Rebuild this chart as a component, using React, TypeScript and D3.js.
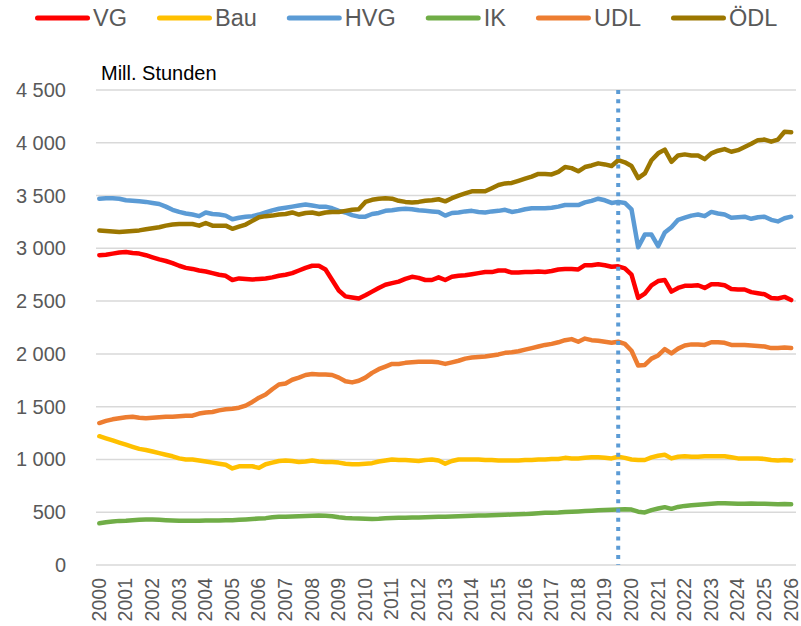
import React, { useRef, useEffect } from 'react';
import * as d3 from 'd3';

// Kategorien: Quartale 2000Q1 bis 2026Q1
const years = ['2000', '2001', '2002', '2003', '2004', '2005', '2006', '2007', '2008', '2009',
  '2010', '2011', '2012', '2013', '2014', '2015', '2016', '2017', '2018', '2019',
  '2020', '2021', '2022', '2023', '2024', '2025', '2026'];
const quarterNames = ['Q1', 'Q2', 'Q3', 'Q4'];
const quarters = years.flatMap(y => quarterNames.map(q => y + q)).slice(0, 105);

const markerQuarter = '2019Q3';
const yTicks = [0, 500, 1000, 1500, 2000, 2500, 3000, 3500, 4000, 4500];

// Mill. Stunden, je Quartal
const vg = [
  2935, 2940, 2950, 2960,
  2965, 2955, 2950, 2935,
  2915, 2895, 2880, 2860,
  2835, 2815, 2805, 2790,
  2780, 2765, 2750, 2740,
  2700, 2715, 2710, 2705,
  2710, 2715, 2725, 2740,
  2750, 2765, 2790, 2815,
  2835, 2835, 2800, 2700,
  2600, 2545, 2535, 2525,
  2555, 2590, 2625, 2655,
  2670, 2685, 2710, 2730,
  2720, 2700, 2700, 2725,
  2700, 2730, 2740, 2745,
  2755, 2765, 2775, 2775,
  2790, 2790, 2770, 2770,
  2775, 2775, 2780, 2775,
  2785, 2800, 2805, 2805,
  2800, 2840, 2840, 2850,
  2840, 2825, 2830, 2810,
  2750, 2530, 2570, 2650,
  2690, 2700, 2590, 2625,
  2645, 2645, 2650, 2625,
  2660, 2660, 2650, 2615,
  2610, 2610, 2585, 2575,
  2565, 2530, 2525, 2540,
  2510,
];

const bau = [
  1220, 1200, 1180, 1160,
  1140, 1120, 1100, 1090,
  1075, 1060, 1045, 1030,
  1010, 1000, 1000, 990,
  980, 970, 960, 950,
  915, 935, 935, 935,
  920, 955, 970, 985,
  990, 985, 975, 980,
  990, 980, 975, 975,
  970, 960, 955, 955,
  960, 965, 980, 990,
  1000, 995, 995, 990,
  985, 995, 1000, 990,
  960, 985, 1000, 1000,
  1000, 1000, 995, 995,
  990, 990, 990, 990,
  995, 995, 1000, 1000,
  1005, 1005, 1015, 1010,
  1010, 1015, 1020, 1020,
  1015, 1010, 1025, 1015,
  1000, 995, 995, 1020,
  1035, 1045, 1010, 1025,
  1030, 1025, 1025, 1030,
  1030, 1030, 1030, 1020,
  1010, 1010, 1010, 1010,
  1005, 995, 990, 995,
  990,
];

const hvg = [
  3470, 3475, 3475, 3470,
  3455, 3450, 3445, 3440,
  3430, 3420, 3395, 3365,
  3345, 3330, 3320, 3305,
  3340, 3325, 3320, 3310,
  3275, 3290, 3300, 3305,
  3320, 3340, 3360, 3375,
  3385, 3395, 3405, 3415,
  3405, 3395, 3395, 3380,
  3355, 3340, 3315, 3300,
  3300, 3325, 3335, 3355,
  3360, 3370, 3375, 3370,
  3360, 3355, 3350, 3345,
  3310, 3335, 3340, 3350,
  3355, 3345, 3340, 3350,
  3355, 3365, 3345, 3355,
  3370, 3380, 3380, 3380,
  3385, 3395, 3410, 3410,
  3410, 3435, 3450, 3470,
  3455, 3430, 3440, 3430,
  3370, 3010, 3130, 3130,
  3020, 3150, 3200, 3270,
  3290, 3310, 3320, 3305,
  3345, 3330, 3320, 3290,
  3295, 3300, 3280, 3295,
  3300, 3270, 3255, 3285,
  3300,
];

const ik = [
  395, 405, 412, 418,
  420, 425, 428, 430,
  430, 428, 425, 422,
  420, 420, 420, 420,
  422, 422, 422, 424,
  425, 428, 432, 436,
  440, 444, 452, 456,
  458, 460, 462, 464,
  466, 468, 466, 462,
  452, 446, 442, 440,
  438, 436, 438, 442,
  446, 448, 448, 450,
  450, 452, 454, 456,
  458, 460, 462, 464,
  466, 468, 470, 472,
  474, 476, 478, 480,
  482, 486, 490, 494,
  496, 498, 502, 505,
  508, 512, 515, 518,
  522, 524, 526, 528,
  525, 505, 498, 520,
  535, 548, 532, 550,
  560, 565, 570, 575,
  580, 584, 585, 582,
  580, 580, 582, 580,
  580, 578, 576, 578,
  576,
];

const udl = [
  1345, 1365, 1380, 1390,
  1400, 1405, 1395, 1390,
  1395, 1400, 1405, 1405,
  1410, 1415, 1415, 1435,
  1445, 1450, 1465, 1475,
  1480, 1490, 1510, 1545,
  1585, 1615, 1665, 1710,
  1720, 1755, 1775, 1800,
  1810, 1805, 1805, 1800,
  1775, 1740, 1730, 1745,
  1775, 1820, 1855, 1880,
  1905, 1905, 1915, 1920,
  1925, 1925, 1925, 1920,
  1905, 1920, 1935, 1955,
  1965, 1970, 1975, 1985,
  1995, 2010, 2015, 2025,
  2040, 2055, 2070, 2085,
  2095, 2110, 2130, 2140,
  2115, 2145, 2130, 2125,
  2115, 2105, 2115, 2095,
  2030, 1890, 1895, 1955,
  1985, 2045, 2005, 2050,
  2080, 2090, 2090, 2085,
  2110, 2110, 2105, 2085,
  2085, 2085, 2080, 2075,
  2070, 2055, 2055, 2060,
  2055,
];

const oedl = [
  3170, 3165, 3160, 3155,
  3160, 3165, 3170, 3180,
  3190, 3200, 3215, 3225,
  3230, 3230, 3230, 3215,
  3240, 3215, 3215, 3215,
  3185, 3205, 3225, 3260,
  3295, 3305, 3310, 3320,
  3325, 3340, 3320, 3335,
  3340, 3325, 3340, 3345,
  3345, 3355, 3365, 3370,
  3440, 3460, 3470, 3475,
  3470, 3450, 3440, 3435,
  3440, 3450, 3455, 3465,
  3445, 3475, 3500, 3520,
  3540, 3540, 3540, 3570,
  3600, 3615, 3620, 3640,
  3660, 3680, 3705, 3705,
  3700, 3725, 3770, 3760,
  3730, 3770, 3785, 3805,
  3795, 3780, 3835, 3815,
  3780, 3665, 3710, 3835,
  3900, 3935, 3820, 3880,
  3890, 3880, 3880, 3845,
  3900, 3925, 3940, 3915,
  3930, 3960, 3990, 4025,
  4030, 4010, 4030, 4105,
  4100,
];

const series = [
  { name: 'VG', values: vg, color: '#FF0000' },
  { name: 'Bau', values: bau, color: '#FFC000' },
  { name: 'HVG', values: hvg, color: '#5B9BD5' },
  { name: 'IK', values: ik, color: '#70AD47' },
  { name: 'UDL', values: udl, color: '#ED7D31' },
  { name: 'ÖDL', values: oedl, color: '#9C7700' },
];

const width = 801;
const height = 626;
const left = 96;
const right = 794.5;
const top = 90;
const bottom = 565;
const font = '"Liberation Sans", Arial, sans-serif';

const App = () => {
  const svgRef = useRef<SVGSVGElement>(null);

  useEffect(() => {
    const svg = d3.select(svgRef.current);
    svg.selectAll('*').remove();

    const x = d3.scalePoint<string>().domain(quarters).range([left, right]).padding(0.5);
    const y = d3.scaleLinear().domain([0, 4500]).range([bottom, top]);
    const fmt = d3.formatLocale({ decimal: ',', thousands: '\u00a0', grouping: [3], currency: ['', ''] }).format(',');

    // Gitterlinien
    svg.append('g')
      .selectAll('line')
      .data(yTicks)
      .enter()
      .append('line')
      .attr('x1', left)
      .attr('x2', right + 1.5)
      .attr('y1', d => y(d))
      .attr('y2', d => y(d))
      .attr('stroke', '#D9D9D9')
      .attr('stroke-width', 1.5);

    svg.append('g')
      .selectAll('text')
      .data(yTicks)
      .enter()
      .append('text')
      .attr('x', 66)
      .attr('y', d => y(d))
      .attr('dy', '0.35em')
      .attr('text-anchor', 'end')
      .style('font-family', font)
      .style('font-size', '20px')
      .attr('fill', '#595959')
      .text(d => fmt(d));

    svg.append('g')
      .selectAll('text')
      .data(quarters.filter(q => q.endsWith('Q1')))
      .enter()
      .append('text')
      .attr('transform', d => `translate(${x(d)}, 578) rotate(-90)`)
      .attr('dy', '0.33em')
      .attr('text-anchor', 'end')
      .style('font-family', font)
      .style('font-size', '19.5px')
      .attr('fill', '#595959')
      .text(d => d.slice(0, 4));

    svg.append('text')
      .attr('x', 101)
      .attr('y', 80)
      .style('font-family', font)
      .style('font-size', '20px')
      .attr('fill', '#000')
      .text('Mill. Stunden');

    const line = d3.line<number>()
      .x((d, i) => x(quarters[i]) as number)
      .y(d => y(d));

    svg.append('g')
      .selectAll('path')
      .data(series)
      .enter()
      .append('path')
      .attr('d', d => line(d.values))
      .attr('fill', 'none')
      .attr('stroke', d => d.color)
      .attr('stroke-width', 4.5)
      .attr('stroke-linejoin', 'round')
      .attr('stroke-linecap', 'round');

    // Markierung
    svg.append('line')
      .attr('x1', x(markerQuarter) as number)
      .attr('x2', x(markerQuarter) as number)
      .attr('y1', top)
      .attr('y2', bottom)
      .attr('stroke', '#5B9BD5')
      .attr('stroke-width', 4)
      .attr('stroke-dasharray', '4 5.3');

    // Legende
    const legend = svg.append('g');
    let lx = 35;
    series.forEach(s => {
      legend.append('line')
        .attr('x1', lx + 2.5)
        .attr('x2', lx + 52.5)
        .attr('y1', 18)
        .attr('y2', 18)
        .attr('stroke', s.color)
        .attr('stroke-width', 5)
        .attr('stroke-linecap', 'round');
      const t = legend.append('text')
        .attr('x', lx + 58)
        .attr('y', 26)
        .style('font-family', font)
        .style('font-size', '23.5px')
        .attr('fill', '#595959')
        .text(s.name);
      const w = (t.node() as SVGTextElement).getComputedTextLength();
      lx += 58 + w + 30;
    });
  }, []);

  return (
    <svg
      ref={svgRef}
      width={width}
      height={height}
      style={{ position: 'absolute', left: 0, top: 0, background: '#fff' }}
    />
  );
};

export default App;
